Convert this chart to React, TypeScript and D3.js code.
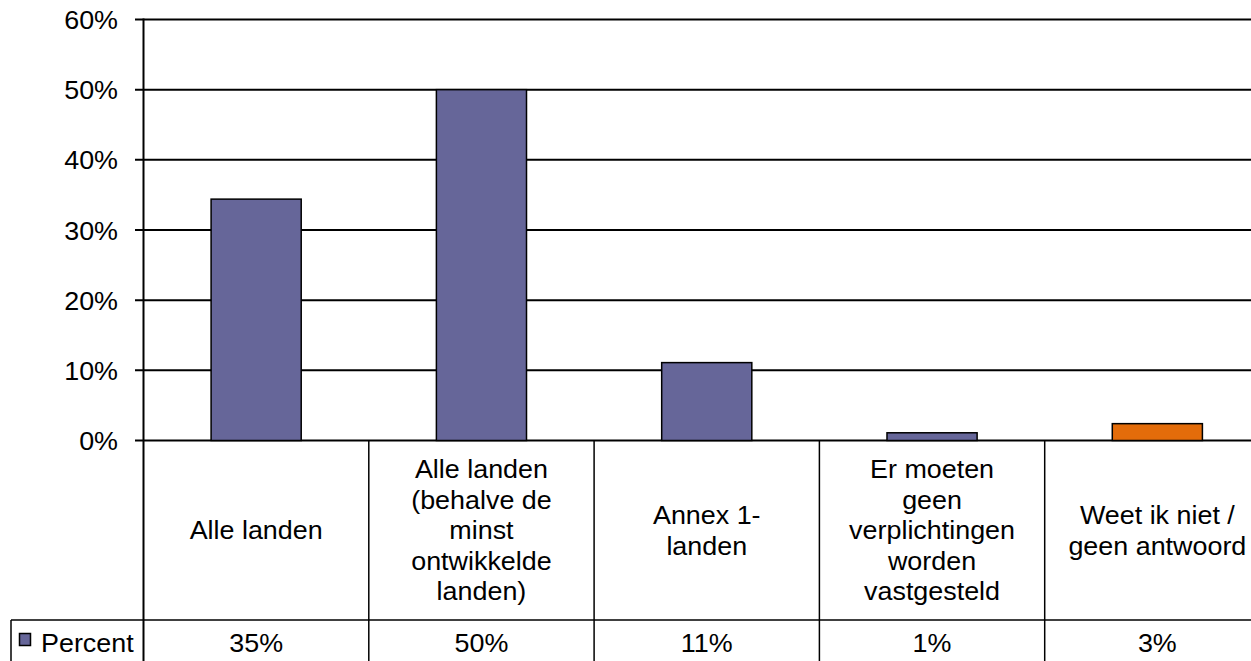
import React from "react";
import * as d3 from "d3";

const categories: string[][] = [
  ["Alle landen"],
  ["Alle landen", "(behalve de", "minst", "ontwikkelde", "landen)"],
  ["Annex 1-", "landen"],
  ["Er moeten", "geen", "verplichtingen", "worden", "vastgesteld"],
  ["Weet ik niet /", "geen antwoord"],
];
const values: number[] = [0.344, 0.5, 0.111, 0.011, 0.024];
const valueLabels: string[] = ["35%", "50%", "11%", "1%", "3%"];
const barColors: string[] = ["#666699", "#666699", "#666699", "#666699", "#E36C0A"];
const yTicks: number[] = [0, 0.1, 0.2, 0.3, 0.4, 0.5, 0.6];
const seriesName = "Percent";

const W = 1251;
const H = 661;
const FONT = "'Liberation Sans', Arial, sans-serif";
const FS = 26;
const SX = 1.035;

function T({ x, y, anchor = "middle", children }: { x: number; y: number; anchor?: string; children: React.ReactNode }) {
  return (
    <text
      transform={`translate(${x},${y}) scale(${SX},1)`}
      textAnchor={anchor}
      fontFamily={FONT}
      fontSize={FS}
      fill="#000"
    >
      {children}
    </text>
  );
}

export default function App() {
  const x0 = 143.5;
  const bw = 225.3;
  const yTop = 19.5;
  const yZero = 440.5;
  const rowY = 620;
  const legendX = 11;

  const y = d3.scaleLinear().domain([0, 0.6]).range([yZero, yTop]);
  const ids = categories.map((_, i) => String(i));
  const x = d3.scaleBand().domain(ids).range([x0, x0 + bw * categories.length]).paddingInner(0).paddingOuter(0);
  const barW = x.bandwidth() * 0.4;
  const fmt = d3.format(".0%");
  const lineH = 30.5;
  const catMid = (yZero + rowY) / 2;

  return (
    <svg
      width={W}
      height={H}
      style={{ position: "absolute", left: 0, top: 0, background: "#fff" }}
    >
      <rect x={0} y={0} width={W} height={H} fill="#fff" />
      {yTicks.map((t) => (
        <g key={t}>
          <line x1={135} x2={W} y1={y(t)} y2={y(t)} stroke="#000" strokeWidth={2} />
          <T x={118} y={y(t) + 9.5} anchor="end">{fmt(t)}</T>
        </g>
      ))}
      {values.map((v, i) => {
        const bx = (x(ids[i]) as number) + (x.bandwidth() - barW) / 2;
        return (
          <rect
            key={i}
            x={bx}
            y={y(v)}
            width={barW}
            height={yZero - y(v)}
            fill={barColors[i]}
            stroke="#000"
            strokeWidth={1.5}
          />
        );
      })}
      <line x1={x0} x2={x0} y1={yTop - 1} y2={H} stroke="#000" strokeWidth={2} />
      {ids.slice(1).map((id) => (
        <line key={id} x1={x(id) as number} x2={x(id) as number} y1={yZero} y2={H} stroke="#000" strokeWidth={1.5} />
      ))}
      <line x1={legendX} x2={W} y1={rowY} y2={rowY} stroke="#000" strokeWidth={1.5} />
      <line x1={legendX} x2={legendX} y1={rowY} y2={H} stroke="#000" strokeWidth={1.5} />
      {categories.map((lines, i) => {
        const cx = (x(ids[i]) as number) + x.bandwidth() / 2;
        const start = catMid - ((lines.length - 1) * lineH) / 2;
        return (
          <g key={i}>
            {lines.map((l, j) => (
              <T key={j} x={cx} y={start + j * lineH + 9}>{l}</T>
            ))}
          </g>
        );
      })}
      {valueLabels.map((l, i) => {
        const cx = (x(ids[i]) as number) + x.bandwidth() / 2;
        return <T key={i} x={cx} y={651.5}>{l}</T>;
      })}
      <rect x={19.5} y={633.5} width={11} height={12} fill="#666699" stroke="#000" strokeWidth={1.5} />
      <T x={41} y={651.5} anchor="start">{seriesName}</T>
    </svg>
  );
}
